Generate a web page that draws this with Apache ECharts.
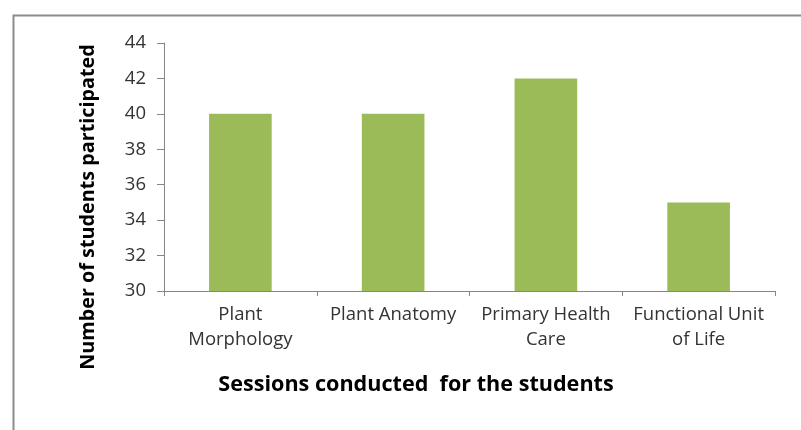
<!DOCTYPE html>
<html><head><meta charset="utf-8">
<script src="https://cdn.jsdelivr.net/npm/echarts@6/dist/echarts.min.js"></script>
<style>html,body{margin:0;padding:0;background:#fff}#c{width:801px;height:430px}</style>
</head><body><div id="c"></div>
<script>
const categories = ['Plant\nMorphology', 'Plant Anatomy', 'Primary Health\nCare', 'Functional Unit\nof Life'];
const values = [40, 40, 42, 35];
const yTitle = 'Number of students participated';
const xTitle = 'Sessions conducted  for the students';
const FONT = '"Open Sans"';
const chart = echarts.init(document.getElementById('c'));
chart.setOption({
  animation: false,
  grid: {left: 164, right: 26, top: 43, bottom: 139, containLabel: false},
  xAxis: {
    type: 'category', data: categories,
    axisLine: {lineStyle: {color: '#868686', width: 1}},
    axisTick: {show: true, alignWithLabel: false, length: 5, lineStyle: {color: '#868686'}},
    axisLabel: {interval: 0, fontFamily: FONT, fontSize: 18.5, color: '#333', lineHeight: 25, margin: 11}
  },
  yAxis: {
    type: 'value', min: 30, max: 44, interval: 2,
    axisLine: {show: true, lineStyle: {color: '#868686'}},
    axisTick: {show: true, length: 7, lineStyle: {color: '#868686'}},
    splitLine: {show: false},
    axisLabel: {fontFamily: FONT, fontSize: 18.5, color: '#333', margin: 18}
  },
  series: [{type: 'bar', data: values, barCategoryGap: '59%', itemStyle: {color: '#9BBB59'}}],
  graphic: [
    {type: 'rect', left: 11, top: 13, shape: {width: 800, height: 420}, style: {fill: 'none', stroke: '#8c8c8c', lineWidth: 2}},
    {type: 'text', x: 88, y: 207, rotation: Math.PI / 2, style: {text: yTitle, font: 'bold 19.8px ' + FONT, fill: '#000', textAlign: 'center', textVerticalAlign: 'middle'}},
    {type: 'text', x: 416, y: 385, style: {text: xTitle, font: 'bold 21.6px ' + FONT, fill: '#000', textAlign: 'center', textVerticalAlign: 'middle'}}
  ]
});
</script></body></html>
